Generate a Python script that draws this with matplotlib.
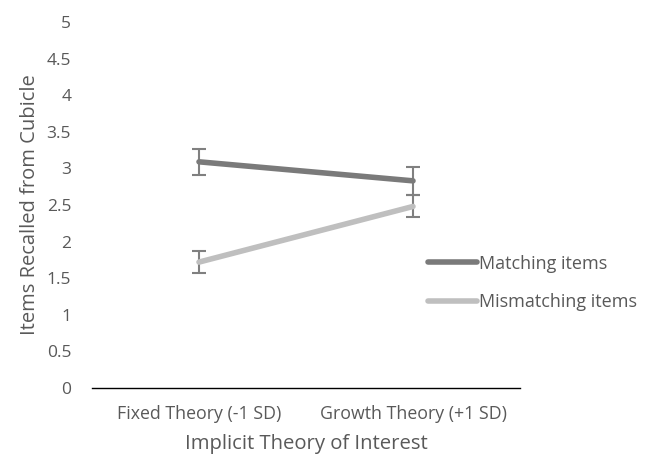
import matplotlib.pyplot as plt
import numpy as np

plt.rcParams['font.family'] = ['Open Sans', 'DejaVu Sans']

categories = ["Fixed Theory (-1 SD)", "Growth Theory (+1 SD)"]
matching = [3.09, 2.83]
matching_err = [0.18, 0.19]
mismatching = [1.72, 2.48]
mismatching_err = [0.15, 0.15]
yticks = [0, 0.5, 1, 1.5, 2, 2.5, 3, 3.5, 4, 4.5, 5]

txt = "#595959"

fig = plt.figure(figsize=(6.51, 4.59), dpi=100)
ax = fig.add_axes([92 / 651, 1 - 388 / 459, 428 / 651, 366 / 459])

x = np.arange(len(categories))
ax.errorbar(x, matching, yerr=matching_err, color="#7a7a7a", lw=4,
            ecolor="#808080", elinewidth=1.5, capsize=5, capthick=1.5,
            label="Matching items", solid_capstyle="round")
ax.errorbar(x, mismatching, yerr=mismatching_err, color="#bfbfbf", lw=4,
            ecolor="#808080", elinewidth=1.5, capsize=5, capthick=1.5,
            label="Mismatching items", solid_capstyle="round")

ax.set_xlim(-0.5, 1.5)
ax.set_ylim(0, 5)
ax.set_xticks(x)
ax.set_xticklabels(categories, fontsize=12.8)
ax.set_yticks(yticks)
ax.set_yticklabels([f"{t:g}" for t in yticks], fontsize=12.5)
ax.tick_params(axis="both", length=0, colors=txt)
ax.tick_params(axis="y", pad=15)
ax.tick_params(axis="x", pad=12)
for s in ["top", "right", "left"]:
    ax.spines[s].set_visible(False)
ax.spines["bottom"].set_color("black")
ax.spines["bottom"].set_linewidth(1)

ax.set_xlabel("Implicit Theory of Interest", fontsize=14.6, color=txt, labelpad=8)
ax.set_ylabel("Items Recalled from Cubicle", fontsize=14.5, color=txt, labelpad=5)

handles, labels = ax.get_legend_handles_labels()
handles = [h[0] for h in handles]
leg = fig.legend(handles, labels, loc="center left",
                 bbox_to_anchor=(428 / 651, 1 - 283 / 459),
                 frameon=False, fontsize=13, handlelength=2.7, handletextpad=0.1,
                 labelspacing=1.15, borderpad=0, borderaxespad=0)
for t in leg.get_texts():
    t.set_color(txt)

fig.savefig("out.png", dpi=100)
